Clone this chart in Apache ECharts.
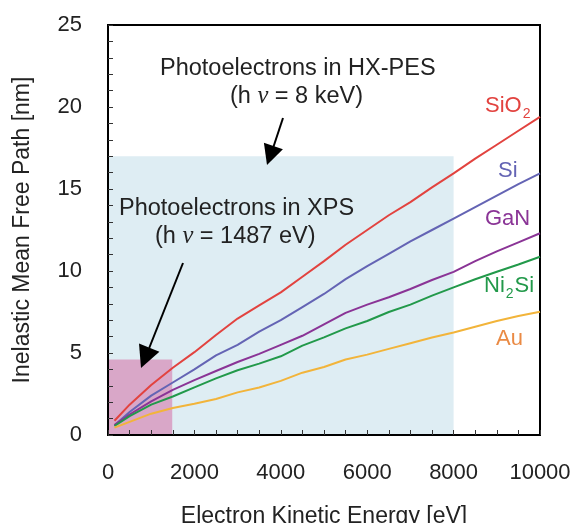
<!DOCTYPE html>
<html>
<head>
<meta charset="utf-8">
<script src="https://cdn.jsdelivr.net/npm/echarts@6/dist/echarts.min.js"></script>
<style>html,body{margin:0;padding:0;background:#fff;}#c{width:576px;height:523px;}</style>
</head>
<body>
<div id="c"></div>
<script>
var energy = [150, 500, 1000, 1500, 2000, 2500, 3000, 3500, 4000, 4500, 5000, 5500, 6000, 6500, 7000, 7500, 8000, 8500, 9000, 9500, 10000];
var sio2 = [0.87, 1.85, 3.05, 4.1, 5.05, 6.1, 7.1, 7.9, 8.7, 9.65, 10.6, 11.6, 12.5, 13.4, 14.2, 15.1, 15.95, 16.85, 17.7, 18.55, 19.4];
var si = [0.6, 1.4, 2.4, 3.2, 4.0, 4.85, 5.5, 6.3, 7.0, 7.8, 8.6, 9.5, 10.3, 11.05, 11.8, 12.5, 13.2, 13.9, 14.6, 15.3, 15.95];
var gan = [0.6, 1.25, 2.05, 2.75, 3.35, 3.9, 4.45, 4.95, 5.5, 6.05, 6.75, 7.45, 7.95, 8.4, 8.9, 9.45, 9.95, 10.6, 11.2, 11.75, 12.3];
var ni2si = [0.55, 1.15, 1.85, 2.35, 2.9, 3.45, 3.95, 4.35, 4.8, 5.45, 5.95, 6.5, 6.95, 7.5, 7.95, 8.5, 9.0, 9.5, 9.95, 10.4, 10.87];
var au = [0.45, 0.8, 1.3, 1.65, 1.9, 2.2, 2.6, 2.9, 3.3, 3.8, 4.15, 4.6, 4.9, 5.25, 5.6, 5.95, 6.25, 6.6, 6.95, 7.25, 7.52];
var hxRegion = [[0, 0], [8000, 17]];
var xpsRegion = [[0, 0], [1487, 4.6]];
var xTickLabels = [0, 2000, 4000, 6000, 8000, 10000];
var yTickLabels = [0, 5, 10, 15, 20, 25];

function pairs(ys) { return energy.map(function (e, i) { return [e, ys[i]]; }); }

var FONT = 'Liberation Sans, Arial, sans-serif';
var SERIF = 'Liberation Serif, DejaVu Serif, serif';
var FS = 22;
var AFS = 23.5;
var chart = echarts.init(document.getElementById('c'), null, {renderer: 'canvas'});

function lineSeries(name, data, color) {
  return {
    name: name, type: 'line', data: pairs(data), showSymbol: false, symbol: 'none',
    lineStyle: {color: color, width: 2}, z: 3, animation: false
  };
}

function richText(parts, color, size) {
  return {
    text: parts, fill: color,
    rich: {
      a: {fontFamily: FONT, fontSize: size, color: color, verticalAlign: 'bottom'},
      b: {fontFamily: FONT, fontSize: 14, color: color, verticalAlign: 'bottom', padding: [0, 1, -4, 1]},
      n: {fontFamily: SERIF, fontStyle: 'italic', fontSize: size + 1, color: color, verticalAlign: 'bottom'}
    }
  };
}

var option = {
  animation: false,
  backgroundColor: '#ffffff',
  grid: {left: 108, right: 36, top: 25, bottom: 88, outerBoundsMode: 'none', containLabel: false, show: true, borderColor: '#000', borderWidth: 2, backgroundColor: 'rgba(0,0,0,0)'},
  xAxis: {
    type: 'value', min: 0, max: 10000, interval: 500, z: 10,
    name: 'Electron Kinetic Energy [eV]', nameLocation: 'middle', nameGap: 70,
    nameTextStyle: {fontFamily: FONT, fontSize: 23, color: '#222'},
    axisLine: {show: true, lineStyle: {color: '#000', width: 2}},
    axisTick: {show: true, inside: true, length: 5, lineStyle: {color: '#333', width: 1}},
    splitLine: {show: false},
    axisLabel: {
      margin: 27, fontFamily: FONT, fontSize: FS, color: '#222',
      formatter: function (v) { return xTickLabels.indexOf(v) >= 0 ? String(v) : ''; }
    }
  },
  yAxis: {
    type: 'value', min: 0, max: 25, interval: 1, z: 10,
    name: 'Inelastic Mean Free Path [nm]', nameLocation: 'middle', nameGap: 74, nameRotate: 90,
    nameTextStyle: {fontFamily: FONT, fontSize: 23, color: '#222'},
    axisLine: {show: true, lineStyle: {color: '#000', width: 2}},
    axisTick: {show: true, inside: true, length: 5, lineStyle: {color: '#333', width: 1}},
    splitLine: {show: false},
    axisLabel: {
      margin: 26, fontFamily: FONT, fontSize: FS, color: '#222',
      formatter: function (v) { return yTickLabels.indexOf(v) >= 0 ? String(v) : ''; }
    }
  },
  series: [
    {
      type: 'line', data: [], z: 1, silent: true,
      markArea: {
        silent: true,
        data: [
          [{xAxis: hxRegion[0][0], yAxis: hxRegion[0][1], itemStyle: {color: '#deedf3'}}, {xAxis: hxRegion[1][0], yAxis: hxRegion[1][1]}],
          [{xAxis: xpsRegion[0][0], yAxis: xpsRegion[0][1], itemStyle: {color: '#d9a7c8'}}, {xAxis: xpsRegion[1][0], yAxis: xpsRegion[1][1]}]
        ]
      }
    },
    lineSeries('SiO2', sio2, '#e2433f'),
    lineSeries('Si', si, '#6464b4'),
    lineSeries('GaN', gan, '#8a3496'),
    lineSeries('Ni2Si', ni2si, '#22994a'),
    lineSeries('Au', au, '#f2b43a')
  ],
  graphic: {
    elements: [
      {type: 'text', z: 100, left: 160, top: 57, style: {text: 'Photoelectrons in HX-PES', font: AFS + 'px ' + FONT, fill: '#222'}},
      {type: 'text', z: 100, left: 230, top: 84, style: richText('{a|(h }{n|\u03bd}{a| = 8 keV)}', '#222', AFS)},
      {type: 'text', z: 100, left: 119, top: 197, style: {text: 'Photoelectrons in XPS', font: AFS + 'px ' + FONT, fill: '#222'}},
      {type: 'text', z: 100, left: 155, top: 224, style: richText('{a|(h }{n|\u03bd}{a| = 1487 eV)}', '#222', AFS)},
      {type: 'line', z: 100, shape: {x1: 283, y1: 118, x2: 273.4, y2: 147}, style: {stroke: '#000', lineWidth: 2}},
      {type: 'polygon', z: 100, shape: {points: [[267, 165], [263.9, 142.8], [282.9, 149.2]]}, style: {fill: '#000'}},
      {type: 'line', z: 100, shape: {x1: 183, y1: 263, x2: 149.2, y2: 348}, style: {stroke: '#000', lineWidth: 2}},
      {type: 'polygon', z: 100, shape: {points: [[141, 368], [139, 343.5], [159.4, 351.7]]}, style: {fill: '#000'}},
      {type: 'text', z: 100, left: 485, top: 95, style: richText('{a|SiO}{b|2}', '#e2433f', FS)},
      {type: 'text', z: 100, left: 498, top: 160, style: {text: 'Si', font: FS + 'px ' + FONT, fill: '#6464b4'}},
      {type: 'text', z: 100, left: 485, top: 208, style: {text: 'GaN', font: FS + 'px ' + FONT, fill: '#8a3496'}},
      {type: 'text', z: 100, left: 484, top: 275, style: richText('{a|Ni}{b|2}{a|Si}', '#22994a', FS)},
      {type: 'text', z: 100, left: 496, top: 328, style: {text: 'Au', font: FS + 'px ' + FONT, fill: '#ea8a44'}}
    ]
  }
};
chart.setOption(option);
</script>
</body>
</html>
